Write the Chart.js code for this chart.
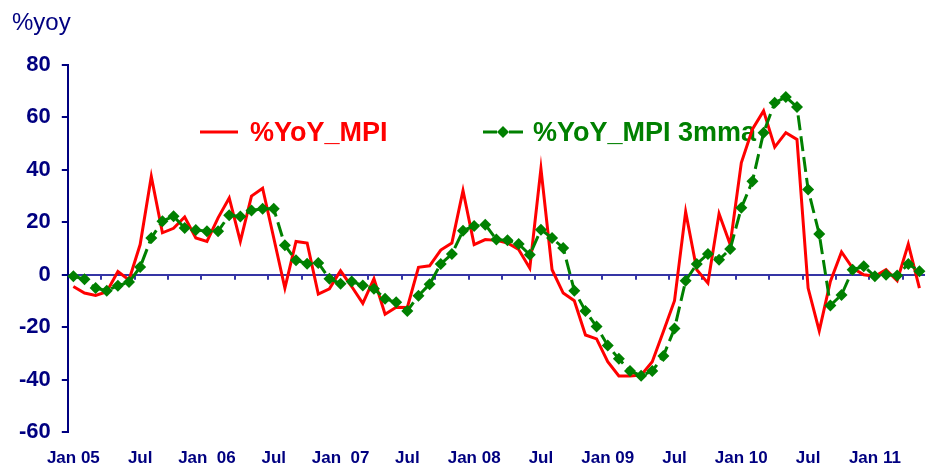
<!DOCTYPE html>
<html lang="en">
<head>
<meta charset="UTF-8">
<title>%YoY MPI</title>
<script src="https://cdn.jsdelivr.net/npm/chart.js@4.4.0/dist/chart.umd.min.js"></script>
<style>
  html, body { margin: 0; padding: 0; background: #fff; }
  #wrap { position: relative; width: 931px; height: 466px; }
</style>
</head>
<body>
<div id="wrap"><canvas id="mpiChart" width="931" height="466"></canvas></div>
<script>
// months Jan 05 .. May 11
const monthNames = ['Jan','Feb','Mar','Apr','May','Jun','Jul','Aug','Sep','Oct','Nov','Dec'];
const months = [];
for (let y = 5; y <= 11; y++) {
    for (let m = 0; m < 12; m++) {
        if (y === 11 && m > 4) break;
        months.push(monthNames[m] + ' ' + String(y).padStart(2, '0'));
    }
}

// tick labels shown every 6 months
const tickLabels = ['Jan 05','Jul','Jan  06','Jul','Jan  07','Jul','Jan 08','Jul','Jan 09','Jul','Jan 10','Jul','Jan 11'];

// %YoY_MPI
const yoyMpi = [
    -4.5, -7.0, -7.9, -6.5, 1.2, -2.0, 11.5, 37.5, 16.0, 17.7, 22.0, 14.0,
    12.7, 21.7, 29.3, 12.7, 30.0, 33.0, 14.0, -5.1, 12.7, 12.1, -7.4, -5.4,
    1.5, -4.5, -10.9, -1.5, -15.1, -12.4, -12.5, 2.8, 3.4, 9.4, 12.1, 32.1,
    11.5, 13.4, 13.1, 12.1, 9.6, 2.5, 40.5, 1.9, -7.0, -9.9, -23.0, -24.5,
    -33.2, -38.6, -38.6, -38.3, -33.2, -21.7, -9.9, 24.0, 1.9, -3.2, 23.3, 11.5,
    42.7, 55.5, 62.5, 48.7, 54.2, 51.6, -5.1, -21.4, -2.6, 8.7, 2.5, 0.0,
    -0.6, 1.9, -2.3, 11.7, -5.1
];

// %YoY_MPI 3mma
const yoyMpi3mma = [
    -0.6, -1.7, -5.1, -6.1, -4.2, -2.8, 2.9, 14.0, 20.4, 22.3, 17.8, 17.1,
    16.6, 16.6, 22.7, 22.2, 24.5, 25.2, 25.2, 11.2, 5.5, 4.2, 4.5, -1.5,
    -3.4, -2.6, -4.1, -5.4, -9.2, -10.5, -13.8, -8.0, -3.6, 4.1, 7.9, 16.8,
    18.6, 19.1, 13.4, 13.1, 11.7, 7.6, 17.2, 14.0, 10.2, -6.1, -13.8, -19.8,
    -27.0, -32.1, -36.7, -38.5, -36.7, -31.0, -20.5, -2.3, 4.1, 7.9, 5.7, 9.8,
    25.5, 35.7, 54.2, 65.6, 67.8, 64.0, 32.5, 15.5, -11.7, -7.7, 1.9, 3.2,
    -0.6, 0.0, -0.3, 4.1, 1.3
];

const NAVY = '#000080';
const ZERO_LINE = '#3535a5';
const RED = '#FF0000';
const GREEN = '#008000';
const FONT = '"Liberation Sans", Arial, sans-serif';

// legend, unit label and quarter ticks on the zero line, drawn under the lines
const legendPlugin = {
    id: 'legendPlugin',
    beforeDatasetsDraw(chart) {
        const ctx = chart.ctx;
        const xs = chart.scales.x;
        const ys = chart.scales.y;
        ctx.save();

        // small ticks every 3 months, on category boundaries
        const y0 = ys.getPixelForValue(0);
        const half = (xs.getPixelForValue(1) - xs.getPixelForValue(0)) / 2;
        ctx.strokeStyle = ZERO_LINE;
        ctx.lineWidth = 2;
        ctx.beginPath();
        for (let i = 3; i < months.length; i += 3) {
            const px = Math.round(xs.getPixelForValue(i) - half);
            ctx.moveTo(px, y0);
            ctx.lineTo(px, y0 + 5);
        }
        ctx.stroke();

        ctx.textBaseline = 'middle';
        ctx.textAlign = 'left';
        ctx.fillStyle = NAVY;
        ctx.font = '24px ' + FONT;
        ctx.fillText('%yoy', 12, 23);

        // red entry
        ctx.strokeStyle = RED;
        ctx.lineWidth = 3;
        ctx.beginPath();
        ctx.moveTo(200, 132);
        ctx.lineTo(238, 132);
        ctx.stroke();
        ctx.fillStyle = RED;
        ctx.font = 'bold 27px ' + FONT;
        ctx.fillText('%YoY_MPI', 250, 134);

        // green entry
        ctx.strokeStyle = GREEN;
        ctx.beginPath();
        ctx.moveTo(483, 132);
        ctx.lineTo(497, 132);
        ctx.moveTo(509, 132);
        ctx.lineTo(523, 132);
        ctx.stroke();
        ctx.fillStyle = GREEN;
        ctx.beginPath();
        ctx.moveTo(503, 126);
        ctx.lineTo(509, 132);
        ctx.lineTo(503, 138);
        ctx.lineTo(497, 132);
        ctx.closePath();
        ctx.fill();
        ctx.fillText('%YoY_MPI 3mma', 533, 134);
        ctx.restore();
    }
};

const ctx = document.getElementById('mpiChart');
new Chart(ctx, {
    type: 'line',
    data: {
        labels: months,
        datasets: [
            {
                label: '%YoY_MPI',
                data: yoyMpi,
                borderColor: RED,
                borderWidth: 3,
                pointRadius: 0,
                tension: 0,
                order: 2
            },
            {
                label: '%YoY_MPI 3mma',
                data: yoyMpi3mma,
                borderColor: GREEN,
                backgroundColor: GREEN,
                borderWidth: 3,
                borderDash: [15, 6],
                pointStyle: 'rectRot',
                pointRadius: 6,
                pointBackgroundColor: GREEN,
                pointBorderColor: GREEN,
                pointBorderWidth: 0,
                tension: 0,
                order: 1
            }
        ]
    },
    options: {
        responsive: false,
        animation: false,
        layout: { padding: { left: 8, right: 6, top: 65, bottom: -19 } },
        plugins: {
            legend: { display: false },
            tooltip: { enabled: false }
        },
        scales: {
            x: {
                type: 'category',
                offset: true,
                grid: { display: false, drawTicks: false },
                border: { display: false },
                afterFit: s => { s.paddingRight = 0; },
                ticks: {
                    autoSkip: false,
                    maxRotation: 0,
                    padding: 18,
                    color: NAVY,
                    font: { family: FONT, size: 17, weight: 'bold', lineHeight: 1 },
                    callback: (v, i) => (i % 6 === 0 ? tickLabels[i / 6] : '')
                }
            },
            y: {
                min: -60,
                max: 80,
                ticks: {
                    stepSize: 20,
                    padding: 11,
                    color: NAVY,
                    font: { family: FONT, size: 22, weight: 'bold' }
                },
                grid: {
                    drawOnChartArea: true,
                    tickLength: 6,
                    color: c => (c.tick && c.tick.value === 0 ? ZERO_LINE : 'rgba(0,0,0,0)'),
                    tickColor: NAVY,
                    lineWidth: 2,
                    tickWidth: 2
                },
                border: { color: NAVY, width: 2 }
            }
        }
    },
    plugins: [legendPlugin]
});
</script>
</body>
</html>
